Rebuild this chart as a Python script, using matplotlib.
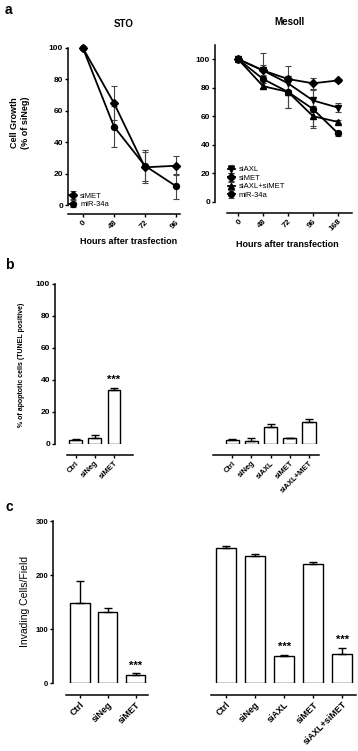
import matplotlib
matplotlib.use("Agg")
import matplotlib.pyplot as plt
import numpy as np

plt.rcParams["font.family"] = ["Liberation Sans", "DejaVu Sans"]

# ---- data: panel a (cell growth, % of siNeg) ----
sto_hours = ["0", "48", "72", "96"]
sto_simet = [100, 65, 24, 25]
sto_simet_err = [0, 11, 10, 6]
sto_mir = [100, 50, 25, 12]
sto_mir_err = [0, 13, 10, 8]

meso_hours = ["0", "48", "72", "96", "168"]
meso_siaxl = [100, 92, 83, 71, 66]
meso_siaxl_err = [0, 4, 5, 8, 3]
meso_simet = [100, 92, 86, 83, 85]
meso_simet_err = [0, 12, 9, 4, 1]
meso_combo = [100, 81, 77, 60, 56]
meso_combo_err = [0, 2, 11, 7, 1]
meso_mir = [100, 86, 77, 65, 48]
meso_mir_err = [0, 3, 11, 13, 2]

# ---- data: panel b (TUNEL positive %) ----
b_sto_labels = ["Ctrl", "siNeg", "siMET"]
b_sto_vals = [2.5, 4, 33.5]
b_sto_err = [0.5, 1.5, 1.5]
b_meso_labels = ["Ctrl", "siNeg", "siAXL", "siMET", "siAXL+MET"]
b_meso_vals = [2.5, 2, 10.5, 3.5, 13.5]
b_meso_err = [0.5, 1.5, 2, 0.5, 2]

# ---- data: panel c (invading cells / field) ----
c_sto_labels = ["Ctrl", "siNeg", "siMET"]
c_sto_vals = [149, 131, 15]
c_sto_err = [39, 7, 4]
c_meso_labels = ["Ctrl", "siNeg", "siAXL", "siMET", "siAXL+siMET"]
c_meso_vals = [250, 235, 50, 221, 53]
c_meso_err = [4, 3, 1, 3, 12]

W, H = 358, 751
fig = plt.figure(figsize=(W / 100, H / 100), dpi=100)


def px_axes(x0, x1, ytop, ybot):
    return fig.add_axes([x0 / W, 1 - ybot / H, (x1 - x0) / W, (ybot - ytop) / H])


def prism_style(ax, left_out, bottom_out, show_left=True, fs=6):
    for s in ["top", "right"]:
        ax.spines[s].set_visible(False)
    ax.spines["left"].set_position(("outward", left_out * 0.72))
    ax.spines["bottom"].set_position(("outward", bottom_out * 0.72))
    ax.spines["left"].set_linewidth(1.1)
    ax.spines["bottom"].set_linewidth(1.1)
    if not show_left:
        ax.spines["left"].set_visible(False)
        ax.tick_params(axis="y", left=False, labelleft=False)
    ax.tick_params(direction="out", length=2.5, width=1, pad=1, labelsize=fs)
    for lab in ax.get_yticklabels():
        lab.set_fontweight("bold")
    ax.patch.set_alpha(0)


def rot_labels(ax, labels, fs):
    ax.set_xticks(range(len(labels)))
    ax.set_xticklabels(labels, rotation=45, ha="right", va="top",
                       rotation_mode="anchor", fontsize=fs, fontweight="bold")


def growth(ax, y, err, marker, label, ms=4):
    x = np.arange(len(y))
    ax.errorbar(x, y, yerr=err, color="black", ecolor="#444444", elinewidth=0.8,
                capsize=2.5, capthick=0.8, lw=1.3, marker=marker, ms=ms,
                label=label, clip_on=False, zorder=3)


# ---------- panel a ----------
ax = px_axes(68, 180, 48, 205)
growth(ax, sto_simet, sto_simet_err, "D", "siMET", ms=3.7)
growth(ax, sto_mir, sto_mir_err, "o", "miR-34a", ms=4.3)
ax.set_ylim(0, 100)
ax.set_xlim(-0.48, 3.13)
ax.set_yticks([0, 20, 40, 60, 80, 100])
prism_style(ax, 0, 9)
rot_labels(ax, sto_hours, 6)
ax.set_title("STO", fontsize=7, fontweight="bold", pad=15)
ax.legend(loc="lower left", bbox_to_anchor=(-0.02, -0.04), frameon=False,
          fontsize=5.5, handlelength=1.0, handletextpad=0.5, labelspacing=0.15,
          borderaxespad=0)

ax = px_axes(227, 352, 44.7, 202)
growth(ax, meso_siaxl, meso_siaxl_err, "v", "siAXL")
growth(ax, meso_simet, meso_simet_err, "D", "siMET", ms=3.7)
growth(ax, meso_combo, meso_combo_err, "^", "siAXL+siMET")
growth(ax, meso_mir, meso_mir_err, "o", "miR-34a", ms=4.3)
ax.set_ylim(0, 110)
ax.set_xlim(-0.44, 4.56)
ax.set_yticks([0, 20, 40, 60, 80, 100])
ax.spines["left"].set_bounds(0, 110)
prism_style(ax, 12, 11)
rot_labels(ax, meso_hours, 6)
ax.set_title("MesoII", fontsize=7, fontweight="bold", pad=14)
ax.legend(loc="lower left", bbox_to_anchor=(-0.02, 0.0), frameon=False,
          fontsize=5.5, handlelength=1.0, handletextpad=0.5, labelspacing=0.15,
          borderaxespad=0)

fig.text(20 / W, 1 - 123 / H, "Cell Growth\n(% of siNeg)", rotation=90,
         ha="center", va="center", fontsize=6.5, fontweight="bold")
fig.text(129 / W, 1 - 241 / H, "Hours after trasfection", ha="center",
         va="center", fontsize=6.5, fontweight="bold")
fig.text(287 / W, 1 - 245 / H, "Hours after transfection", ha="center",
         va="center", fontsize=6.5, fontweight="bold")


def bars(ax, vals, err, width):
    x = np.arange(len(vals))
    ax.bar(x, vals, width=width, color="white", edgecolor="black", lw=1.0,
           yerr=[np.zeros(len(err)), err],
           error_kw=dict(ecolor="black", elinewidth=1.0, capsize=3, capthick=1.0))


# ---------- panel b ----------
ax = px_axes(67, 133, 284, 444)
bars(ax, b_sto_vals, b_sto_err, 0.68)
ax.set_ylim(0, 100)
ax.set_xlim(-0.47, 3.0)
ax.set_yticks([0, 20, 40, 60, 80, 100])
prism_style(ax, 12, 11)
rot_labels(ax, b_sto_labels, 5.5)
ax.text(2, b_sto_vals[2] + b_sto_err[2] + 2, "***", ha="center", va="bottom",
        fontsize=8, fontweight="bold")

ax = px_axes(213, 319, 284, 444)
bars(ax, b_meso_vals, b_meso_err, 0.68)
ax.set_ylim(0, 100)
ax.set_xlim(-0.99, 4.52)
prism_style(ax, 0, 11, show_left=False)
rot_labels(ax, b_meso_labels, 5.5)

fig.text(22 / W, 1 - 365 / H, "% of apoptotic cells (TUNEL positive)",
         rotation=90, ha="center", va="center", fontsize=5, fontweight="bold")

# ---------- panel c ----------
ax = px_axes(66, 148, 521, 683)
bars(ax, c_sto_vals, c_sto_err, 0.68)
ax.set_ylim(0, 300)
ax.set_xlim(-0.5, 2.43)
ax.set_yticks([0, 100, 200, 300])
prism_style(ax, 13, 12, fs=5.5)
rot_labels(ax, c_sto_labels, 6.5)
ax.text(2, c_sto_vals[2] + c_sto_err[2] + 4, "***", ha="center", va="bottom",
        fontsize=8, fontweight="bold")

ax = px_axes(211, 356, 521, 683)
bars(ax, c_meso_vals, c_meso_err, 0.69)
ax.set_ylim(0, 300)
ax.set_xlim(-0.52, 4.48)
prism_style(ax, 0, 12, show_left=False)
rot_labels(ax, c_meso_labels, 6.5)
for i in (2, 4):
    ax.text(i, c_meso_vals[i] + c_meso_err[i] + 6, "***", ha="center",
            va="bottom", fontsize=8, fontweight="bold")

fig.text(25 / W, 1 - 601 / H, "Invading Cells/Field", rotation=90,
         ha="center", va="center", fontsize=7.5)

# panel letters
fig.text(5 / W, 1 - 10 / H, "a", fontsize=10, fontweight="bold", va="center")
fig.text(5 / W, 1 - 265 / H, "b", fontsize=10, fontweight="bold", va="center")
fig.text(5 / W, 1 - 507 / H, "c", fontsize=10, fontweight="bold", va="center")

fig.savefig("out.png", dpi=100)
